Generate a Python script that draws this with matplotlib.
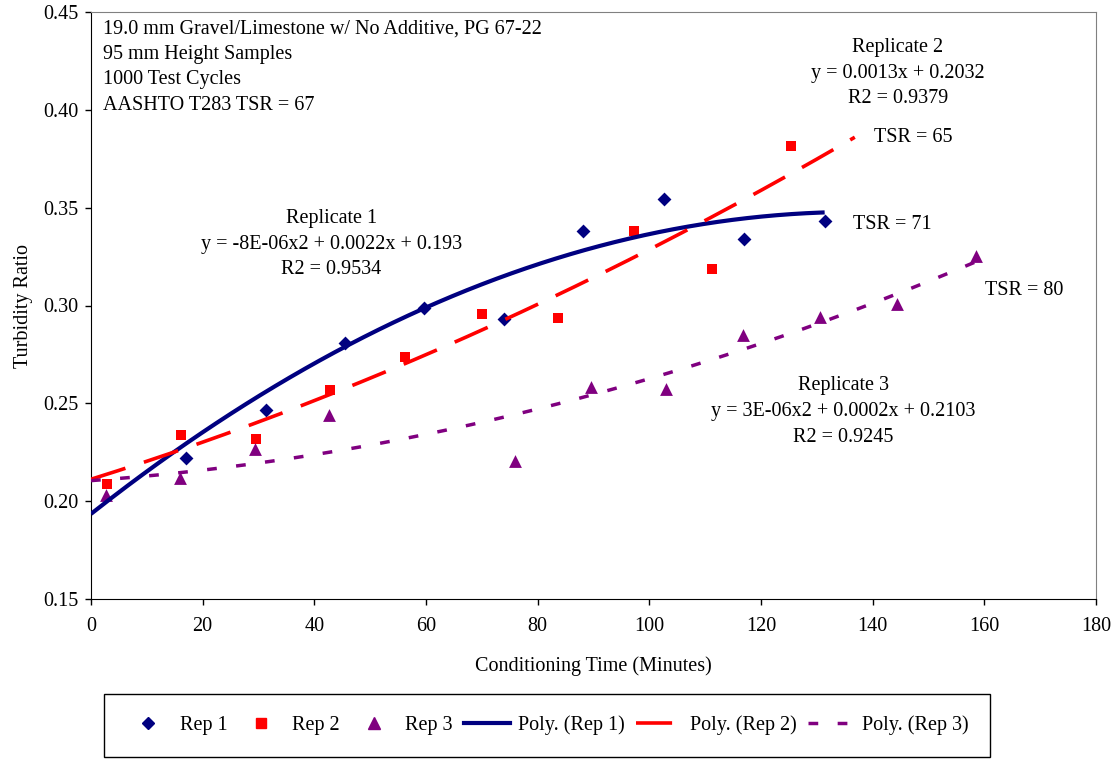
import numpy as np
import matplotlib.pyplot as plt
from matplotlib.lines import Line2D

plt.rcParams['font.family'] = ['Liberation Serif', 'DejaVu Serif']
plt.rcParams['lines.scale_dashes'] = False

# data
rep1_x = [17.0, 31.3, 45.5, 59.7, 74.0, 88.2, 102.7, 116.9, 131.4]
rep1_y = [0.222, 0.2465, 0.2809, 0.2988, 0.293, 0.338, 0.3545, 0.334, 0.343]
rep2_x = [2.8, 16.1, 29.5, 42.8, 56.3, 70.1, 83.6, 97.3, 111.3, 125.3]
rep2_y = [0.209, 0.2338, 0.232, 0.2568, 0.2739, 0.2957, 0.2938, 0.3383, 0.3187, 0.3816]
rep3_x = [2.6, 15.9, 29.3, 42.7, 76.0, 89.5, 103.0, 116.7, 130.5, 144.3, 158.5]
rep3_y = [0.2032, 0.2117, 0.2267, 0.2439, 0.2206, 0.2582, 0.2574, 0.285, 0.2943, 0.3008, 0.3255]

# trendline coefficients (x^2, x, 1) and end of drawn range
rep1_trend = [-8.2e-6, 0.00225, 0.1935]
rep2_trend = [2.82e-6, 0.000892, 0.2112]
rep3_trend = [3.16e-6, 0.000205, 0.2105]
trend_end = [131.4, 136.8, 158.5]

info_lines = ['19.0 mm Gravel/Limestone w/ No Additive, PG 67-22',
              '95 mm Height Samples', '1000 Test Cycles', 'AASHTO T283 TSR = 67']
rep1_label = ['Replicate 1', 'y = -8E-06x2 + 0.0022x + 0.193', 'R2 = 0.9534']
rep2_label = ['Replicate 2', 'y = 0.0013x + 0.2032', 'R2 = 0.9379']
rep3_label = ['Replicate 3', 'y = 3E-06x2 + 0.0002x + 0.2103', 'R2 = 0.9245']

NAVY = '#000080'
RED = '#FF0000'
PURPLE = '#800080'
FS = 14.5


def text_block(ax, x, y, lines, ha='center'):
    for i, s in enumerate(lines):
        ax.annotate(s, (x, y), xytext=(0, -18.4 * i), textcoords='offset points',
                    ha=ha, va='center', fontsize=FS)


def main():
    fig = plt.figure(figsize=(11.15, 7.59), dpi=100)
    ax = fig.add_axes([91 / 1115, 1 - 599 / 759, (1096 - 91) / 1115, (599 - 12) / 759])

    ax.scatter(rep1_x, rep1_y, marker='D', s=50, color=NAVY, zorder=2, linewidths=0)
    ax.scatter(rep2_x, rep2_y, marker='s', s=62, color=RED, zorder=2, linewidths=0)
    ax.scatter(rep3_x, rep3_y, marker='^', s=85, color=PURPLE, zorder=2, linewidths=0)

    styles = [dict(color=NAVY, lw=3.0, ls='-'),
              dict(color=RED, lw=2.6, dashes=(26, 14)),
              dict(color=PURPLE, lw=2.5, dashes=(7, 14))]
    for coef, xe, st in zip([rep1_trend, rep2_trend, rep3_trend], trend_end, styles):
        xs = np.linspace(0, xe, 200)
        ax.plot(xs, np.polyval(coef, xs), zorder=3, solid_capstyle='butt',
                dash_capstyle='butt', **st)

    ax.set_xlim(0, 180)
    ax.set_ylim(0.15, 0.45)
    ax.set_xticks(np.arange(0, 181, 20))
    ax.set_yticks(np.arange(0.15, 0.451, 0.05))
    ax.set_yticklabels(['%.2f' % v for v in np.arange(0.15, 0.451, 0.05)])
    ax.tick_params(direction='out', length=4.3, width=1, labelsize=FS, pad=5,
                   top=False, right=False)
    ax.tick_params(axis='x', pad=9)
    for side in ['top', 'right']:
        ax.spines[side].set_color('#808080')
    for side in ['left', 'bottom']:
        ax.spines[side].set_color('black')
    ax.set_xlabel('Conditioning Time (Minutes)', fontsize=FS, labelpad=14)
    ax.set_ylabel('Turbidity Ratio', fontsize=FS, labelpad=7)

    text_block(ax, 2.15, 0.4414, info_lines, ha='left')
    text_block(ax, 43.0, 0.3443, rep1_label)
    text_block(ax, 144.5, 0.4317, rep2_label)
    text_block(ax, 134.7, 0.2589, rep3_label)
    ax.text(147.2, 0.3857, 'TSR = 65', ha='center', va='center', fontsize=FS)
    ax.text(143.6, 0.3412, 'TSR = 71', ha='center', va='center', fontsize=FS)
    ax.text(167.1, 0.3075, 'TSR = 80', ha='center', va='center', fontsize=FS)

    handles = [Line2D([], [], marker='D', ms=6, color=NAVY, ls='none'),
               Line2D([], [], marker='s', ms=7, color=RED, ls='none'),
               Line2D([], [], marker='^', ms=8, color=PURPLE, ls='none'),
               Line2D([], [], **styles[0]),
               Line2D([], [], **styles[1]),
               Line2D([], [], **styles[2])]
    labels = ['Rep 1', 'Rep 2', 'Rep 3', 'Poly. (Rep 1)', 'Poly. (Rep 2)', 'Poly. (Rep 3)']
    leg = fig.legend(handles, labels, loc='center', ncol=6, fontsize=FS,
                     bbox_to_anchor=(104 / 1115, 1 - 758 / 759, (990 - 104) / 1115, 65 / 759),
                     mode='expand', borderaxespad=0, borderpad=1.05, handlelength=2.3,
                     handletextpad=0.4, columnspacing=0.9, fancybox=False, framealpha=1)
    leg.get_frame().set_edgecolor('black')
    leg.get_frame().set_linewidth(1)

    fig.savefig('out.png', dpi=100)


if __name__ == '__main__':
    main()
